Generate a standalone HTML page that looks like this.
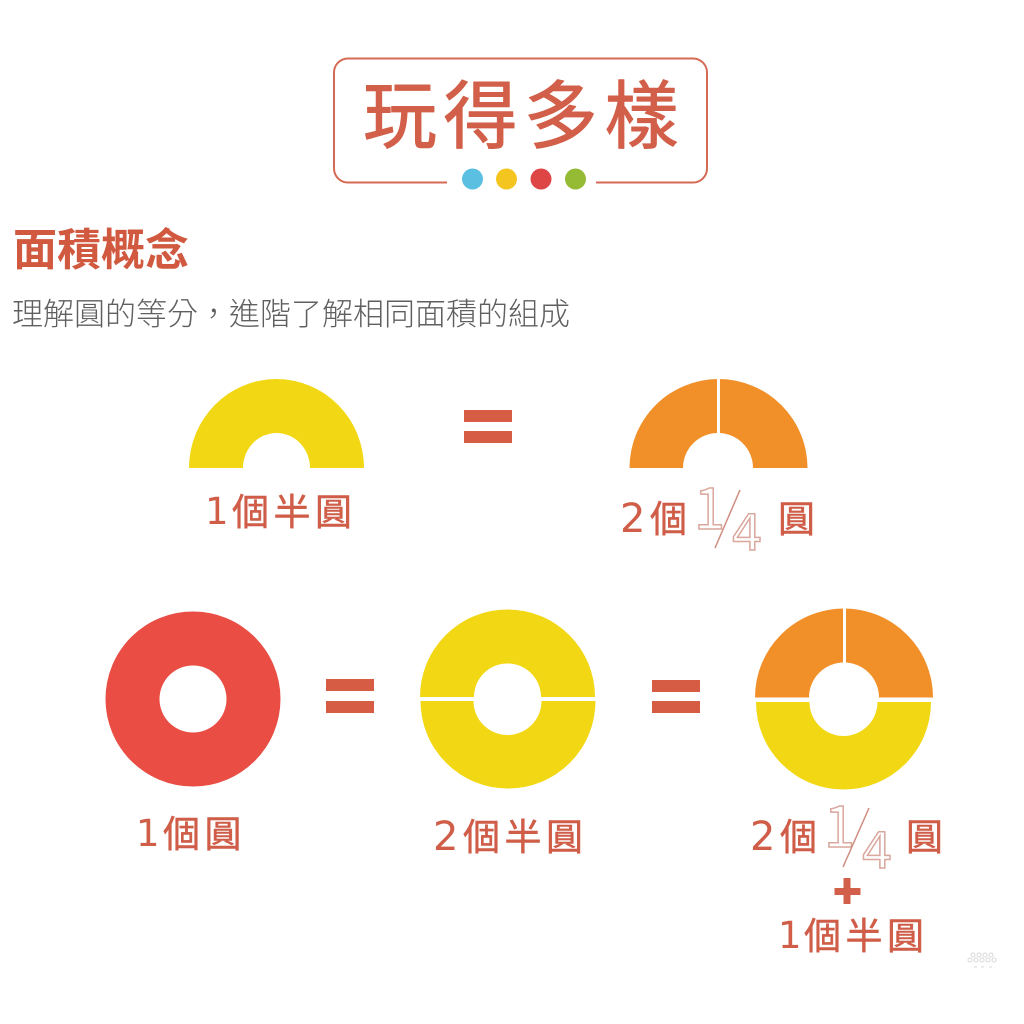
<!DOCTYPE html>
<html lang="zh-Hant">
<head>
<meta charset="utf-8">
<style>
html,body{margin:0;padding:0;background:#fff;width:1024px;height:1024px;overflow:hidden}
svg{display:block}
text{font-family:"Noto Sans CJK TC",sans-serif}
.lab{font-size:37px;letter-spacing:4.500px;fill:#cf5d48;stroke:#cf5d48;stroke-width:.5px}
.dig{font-family:"DejaVu Sans",sans-serif;fill:#cf5d48}
.frac{font-family:"DejaVu Sans",sans-serif;fill:#fff;stroke:#d9a79c;stroke-width:1.500px}
.one{font-family:"Noto Sans CJK TC",sans-serif;font-weight:400;fill:#fff;stroke:#d9a79c;stroke-width:1.500px}
</style>
</head>
<body>
<svg width="1024" height="1024" viewBox="0 0 1024 1024" xmlns="http://www.w3.org/2000/svg">
<rect width="1024" height="1024" fill="#fff"/>

<!-- Title frame -->
<path d="M447 182.500H348a14 14 0 0 1-14-14V72.500a14 14 0 0 1 14-14H693a14 14 0 0 1 14 14V168.500a14 14 0 0 1-14 14H596" fill="none" stroke="#d56a55" stroke-width="2"/>
<text x="363" y="142" font-size="74" letter-spacing="6.500" fill="#d25f49" stroke="#d25f49" stroke-width="1" stroke-linejoin="round">玩得多樣</text>
<circle cx="472.500" cy="179" r="10.500" fill="#5bbfe2"/>
<circle cx="506.500" cy="179" r="10.500" fill="#f4c51f"/>
<circle cx="541" cy="179" r="10.500" fill="#dd4644"/>
<circle cx="575.500" cy="179" r="10.500" fill="#95bb35"/>

<!-- Headings -->
<text x="13" y="265" font-size="44" font-weight="700" fill="#d0593f">面積概念</text>
<text x="12" y="325" font-size="31" fill="#5f5f5f" font-weight="300">理解圓的等分，進階了解相同面積的組成</text>

<!-- Row 1 -->
<path d="M189 468A87.500 89 0 0 1 364 468H310A33.500 35 0 0 0 243 468Z" fill="#f2d714"/>
<path d="M629.500 468a89 89 0 0 1 178 0H753a35 35 0 0 0-70 0Z" fill="#f18f29"/>
<rect x="717" y="378" width="3" height="58" fill="#fff"/>
<rect x="464" y="410" width="48" height="12" fill="#d65c44"/>
<rect x="464" y="431" width="48" height="12" fill="#d65c44"/>

<text class="dig" x="205" y="524" font-size="37">1</text>
<text class="lab" x="232" y="525">個半圓</text>

<text class="dig" x="620" y="532" font-size="40">2</text>
<text class="lab" x="650" y="532">個</text>
<text class="lab" x="778" y="532">圓</text>
<text class="one" x="694" y="529" font-size="56">1</text>
<text class="frac" x="731" y="550" font-size="50">4</text>
<line x1="740" y1="490" x2="715" y2="548" stroke="#cf8d7f" stroke-width="1.500"/>

<!-- Row 2 -->
<path fill-rule="evenodd" fill="#e94d43" d="M105.500 699a87.500 87.500 0 1 0 175 0a87.500 87.500 0 1 0-175 0ZM159.500 699a33.500 33.500 0 1 0 67 0a33.500 33.500 0 1 0-67 0Z"/>

<rect x="326" y="679" width="48" height="12" fill="#d65c44"/>
<rect x="326" y="701" width="48" height="12" fill="#d65c44"/>

<path d="M420 697a87.500 87.500 0 0 1 175 0H541a33.500 33.500 0 0 0-67 0Z" fill="#f2d714"/>
<path d="M420.500 701a87.500 87.500 0 0 0 175 0H541.500a34 34 0 0 1-68 0Z" fill="#f2d714"/>

<rect x="652" y="680" width="48" height="12" fill="#d65c44"/>
<rect x="652" y="701" width="48" height="12" fill="#d65c44"/>

<path d="M755 697.500a89 89 0 0 1 178 0H879a35 35 0 0 0-70 0Z" fill="#f18f29"/>
<rect x="843" y="607" width="3" height="58" fill="#fff"/>
<path d="M756 702a87.500 87.500 0 0 0 175 0H877.500a34 34 0 0 1-68 0Z" fill="#f2d714"/>

<!-- Row 2 labels -->
<text class="dig" x="136" y="846" font-size="37">1</text>
<text class="lab" x="163" y="847">個圓</text>

<text class="dig" x="433" y="850" font-size="40">2</text>
<text class="lab" x="463" y="850">個半圓</text>

<text class="dig" x="750" y="850" font-size="40">2</text>
<text class="lab" x="780" y="850">個</text>
<text class="lab" x="906" y="850">圓</text>
<text class="one" x="824" y="847" font-size="56">1</text>
<text class="frac" x="861" y="868" font-size="50">4</text>
<line x1="869" y1="808" x2="843" y2="867" stroke="#cf8d7f" stroke-width="1.500"/>

<rect x="843.500" y="878" width="7" height="26" fill="#d25f49"/>
<rect x="834.500" y="888" width="26" height="7" fill="#d25f49"/>

<text class="dig" x="778" y="948" font-size="37">1</text>
<text class="lab" x="804" y="949">個半圓</text>

<!-- Watermark -->
<g fill="none" stroke="#d8d8d8" stroke-width="1">
<circle cx="973" cy="955" r="2"/><circle cx="979" cy="955" r="2"/><circle cx="985" cy="955" r="2"/><circle cx="991" cy="955" r="2"/>
<circle cx="970" cy="960" r="2"/><circle cx="976" cy="960" r="2"/><circle cx="982" cy="960" r="2"/><circle cx="988" cy="960" r="2"/><circle cx="994" cy="960" r="2"/>
<path d="M974 967h3M981 967h3M989 967h3"/>
</g>
</svg>
</body>
</html>
